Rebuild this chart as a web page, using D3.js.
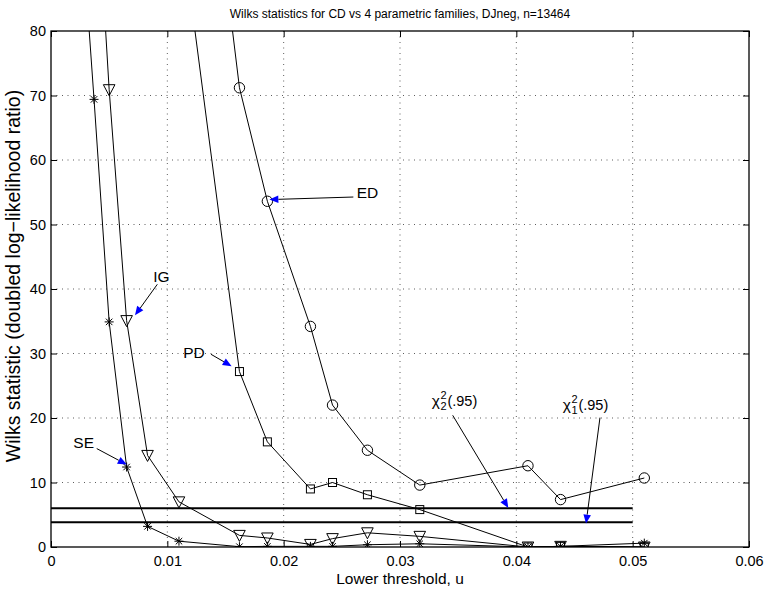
<!DOCTYPE html>
<html><head><meta charset="utf-8">
<script src="https://cdn.jsdelivr.net/npm/d3@7"></script>
<style>
body{margin:0;background:#fff;}
text{font-family:"Liberation Sans",Arial,Helvetica,sans-serif;fill:#000;}
</style></head>
<body><svg id="c" width="766" height="592"></svg>
<script>
// ---- data ----
const thresholds = [0.0025, 0.0037, 0.0050, 0.0065, 0.0083, 0.0110, 0.0162, 0.0186, 0.0223, 0.0242, 0.0272, 0.0317, 0.0410, 0.0438, 0.0510];
const seValues = [100, 69.4, 34.9, 12.4, 3.2, 0.9, 0.05, 0.1, 0.1, 0.1, 0.35, 0.5, 0.0, 0.1, 0.6];
const igValues = [null, 110, 70.9, 35.1, 14.2, 7.0, 1.8, 1.4, 0.4, 1.3, 2.2, 1.65, 0.0, 0.1, 0.0];
const pdValues = [null, null, null, null, null, 99, 27.2, 16.3, 9.0, 10.0, 8.1, 5.8, 0.0, 0.1, 0.0];
const edValues = [null, null, null, null, null, 148, 71.2, 53.6, 34.2, 22.0, 15.0, 9.6, 12.6, 7.35, 10.7];
const chi2Levels = [5.99, 3.84];
const chi2Extent = [0, 0.05];
const xTicks = [0, 0.01, 0.02, 0.03, 0.04, 0.05, 0.06];
const yTicks = [0, 10, 20, 30, 40, 50, 60, 70, 80];
const titleText = "Wilks statistics for CD vs 4 parametric families, DJneg, n=13464";
const xLabel = "Lower threshold, u";
const yLabel = "Wilks statistic (doubled log\u2212likelihood ratio)";
// annotations in data units: label, text position, arrow start, arrow tip
const labels = [
  {t:"ED", tx:0.02628, ty:54.9, x1:0.02599, y1:54.26, x2:0.01877, y2:53.86},
  {t:"IG", tx:0.00879, ty:41.97, x1:0.00914, y1:40.73, x2:0.00722, y2:35.92},
  {t:"PD", tx:0.01137, ty:30.23, x1:0.01375, y1:29.88, x2:0.01553, y2:28.02},
  {t:"SE", tx:0.00192, ty:16.28, x1:0.00393, y1:15.26, x2:0.00651, y2:12.78}
];
const chiLabels = [
  {sub:"2", tx:0.03273, ty:21.8, x1:0.03453, y1:20.42, x2:0.03931, y2:6.05},
  {sub:"1", tx:0.04399, ty:21.2, x1:0.04719, y1:20.06, x2:0.04599, y2:3.63}
];

// ---- layout ----
const L=51, R=749, T=31, B=547;
const svg = d3.select("#c");
const x = d3.scaleLinear().domain([0,0.06]).range([L,R]);
const y = d3.scaleLinear().domain([0,80]).range([B,T]);

svg.append("defs").append("clipPath").attr("id","clip")
  .append("rect").attr("x",L).attr("y",T).attr("width",R-L).attr("height",B-T);

// grid
const grid = svg.append("g").attr("stroke","#000").attr("stroke-width",0.9).attr("stroke-dasharray","1,4.5").attr("opacity",0.7);
xTicks.slice(1,-1).forEach(v=>grid.append("line").attr("x1",x(v)).attr("x2",x(v)).attr("y1",T).attr("y2",B));
yTicks.slice(1,-1).forEach(v=>grid.append("line").attr("x1",L).attr("x2",R).attr("y1",y(v)).attr("y2",y(v)));

// axes (ticks inside, box)
const fs = 14.5;
const axB = svg.append("g").attr("transform",`translate(0,${B})`)
  .call(d3.axisBottom(x).tickValues(xTicks).tickSizeInner(-6).tickSizeOuter(0).tickPadding(9).tickFormat(d=>d===0?"0":d3.format(".2f")(d)));
const axT = svg.append("g").attr("transform",`translate(0,${T})`)
  .call(d3.axisTop(x).tickValues(xTicks).tickSizeInner(-6).tickSizeOuter(0).tickFormat(""));
const axL = svg.append("g").attr("transform",`translate(${L},0)`)
  .call(d3.axisLeft(y).tickValues(yTicks).tickSizeInner(-6).tickSizeOuter(0).tickPadding(5));
const axR = svg.append("g").attr("transform",`translate(${R},0)`)
  .call(d3.axisRight(y).tickValues(yTicks).tickSizeInner(-6).tickSizeOuter(0).tickFormat(""));
[axB,axT,axL,axR].forEach(a=>{
  a.select(".domain").remove();
  a.selectAll("line").attr("stroke","#000");
  a.selectAll("text").attr("font-size",fs).attr("font-family","Liberation Sans, Arial, sans-serif").attr("fill","#000");
});
svg.append("rect").attr("x",L).attr("y",T).attr("width",R-L).attr("height",B-T)
  .attr("fill","none").attr("stroke","#000").attr("stroke-width",1.3);

// chi2 reference lines
chi2Levels.forEach(v=>svg.append("line").attr("x1",x(chi2Extent[0])).attr("x2",x(chi2Extent[1]))
  .attr("y1",y(v)).attr("y2",y(v)).attr("stroke","#000").attr("stroke-width",2));

// series
const plot = svg.append("g").attr("clip-path","url(#clip)");
const series = [
  {vals:seValues, m:"star"},
  {vals:igValues, m:"tri"},
  {vals:pdValues, m:"sq"},
  {vals:edValues, m:"circ"}
];
const line = d3.line().defined(d=>d[1]!==null).x(d=>x(d[0])).y(d=>y(d[1]));
series.forEach(s=>{
  const pts = thresholds.map((u,i)=>[u,s.vals[i]]);
  plot.append("path").attr("d",line(pts)).attr("fill","none").attr("stroke","#000").attr("stroke-width",1);
  const g = plot.append("g").attr("fill","none").attr("stroke","#000").attr("stroke-width",1);
  pts.filter(p=>p[1]!==null).forEach(p=>{
    const cx=x(p[0]), cy=y(p[1]);
    if(s.m==="star"){
      const r=4.5, d=r*0.72;
      g.append("path").attr("d",`M${cx-r},${cy}H${cx+r}M${cx},${cy-r}V${cy+r}M${cx-d},${cy-d}L${cx+d},${cy+d}M${cx-d},${cy+d}L${cx+d},${cy-d}`);
    } else if(s.m==="tri"){
      const w=5.8, h=5;
      g.append("path").attr("d",`M${cx-w},${cy-h}L${cx+w},${cy-h}L${cx},${cy+h+1}Z`);
    } else if(s.m==="sq"){
      g.append("rect").attr("x",cx-4).attr("y",cy-4).attr("width",8).attr("height",8);
    } else {
      g.append("circle").attr("cx",cx).attr("cy",cy).attr("r",5.2);
    }
  });
});

// arrow helper
function arrow(x1,y1,x2,y2){
  const dx=x2-x1, dy=y2-y1, len=Math.hypot(dx,dy), ux=dx/len, uy=dy/len;
  const hl=9, hw=3.8;
  const bx=x2-ux*hl, by=y2-uy*hl;
  svg.append("line").attr("x1",x1).attr("y1",y1).attr("x2",bx).attr("y2",by).attr("stroke","#000").attr("stroke-width",1);
  svg.append("path").attr("d",`M${x2},${y2}L${bx-uy*hw},${by+ux*hw}L${bx+uy*hw},${by-ux*hw}Z`).attr("fill","#0000ff");
}
labels.forEach(a=>{
  svg.append("text").attr("x",x(a.tx)).attr("y",y(a.ty)).attr("dy","0.36em").attr("font-size",15.5).text(a.t);
  arrow(x(a.x1),y(a.y1),x(a.x2),y(a.y2));
});
chiLabels.forEach(a=>{
  const tx=x(a.tx), ty=y(a.ty);
  const chi = svg.append("text").attr("x",tx).attr("y",ty).attr("font-size",15.5).text("\u03c7");
  const cw = chi.node().getComputedTextLength();
  svg.append("text").attr("x",tx+cw+0.5).attr("y",ty-7).attr("font-size",11).text("2");
  svg.append("text").attr("x",tx+cw+0.5).attr("y",ty+4).attr("font-size",11).text(a.sub);
  svg.append("text").attr("x",tx+cw+7.5).attr("y",ty).attr("font-size",14.5).text("(.95)");
  arrow(x(a.x1),y(a.y1),x(a.x2),y(a.y2));
});

// titles
svg.append("text").attr("x",(L+R)/2).attr("y",18).attr("text-anchor","middle").attr("font-size",12).text(titleText);
svg.append("text").attr("x",(L+R)/2).attr("y",584).attr("text-anchor","middle").attr("font-size",15.5).text(xLabel);
svg.append("text").attr("transform",`translate(20,276) rotate(-90)`).attr("text-anchor","middle").attr("font-size",19.5).text(yLabel);
</script></body></html>
